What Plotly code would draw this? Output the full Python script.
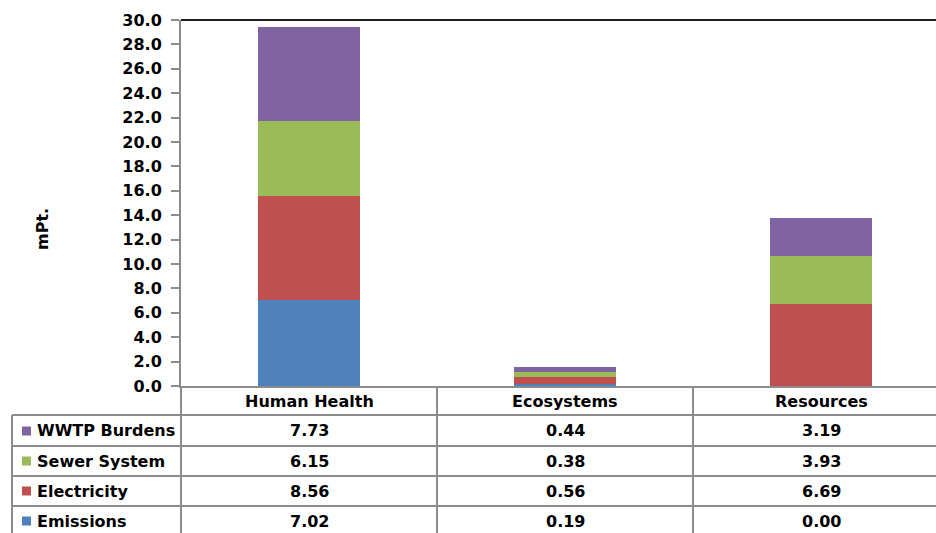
import plotly.graph_objects as go

categories = ["Human Health", "Ecosystems", "Resources"]
series_names = ["Emissions", "Electricity", "Sewer System", "WWTP Burdens"]
emissions = [7.02, 0.19, 0.00]
electricity = [8.56, 0.56, 6.69]
sewer = [6.15, 0.38, 3.93]
wwtp = [7.73, 0.44, 3.19]
colors = ["#4F81BD", "#C0504D", "#9BBB59", "#8064A2"]
y_title = "mPt."

W, H = 936, 533
series_vals = [emissions, electricity, sewer, wwtp]

FONT = dict(family="DejaVu Sans", size=16, color="#000000", weight="bold")
GRID = "#8c8c8c"

def py(p):
    return (H - p) / H

def px(p):
    return p / W

fig = go.Figure()
for name, vals, col in zip(series_names, series_vals, colors):
    fig.add_trace(go.Bar(x=categories, y=vals, name=name, marker=dict(color=col, line=dict(width=0)),
                         width=0.4, hoverinfo="skip"))

shapes = []
annotations = []

# top border line of plot area
shapes.append(dict(type="line", xref="paper", yref="paper", x0=px(181), x1=1, y0=py(20), y1=py(20),
                   line=dict(color="#202020", width=2)))
# table horizontal lines
row_lines = [415, 446, 476, 506]
for yl in row_lines:
    shapes.append(dict(type="line", xref="paper", yref="paper", x0=px(12), x1=1, y0=py(yl), y1=py(yl),
                       line=dict(color=GRID, width=2)))
# left table border
shapes.append(dict(type="line", xref="paper", yref="paper", x0=px(12), x1=px(12), y0=py(415), y1=0,
                   line=dict(color=GRID, width=2)))
# y axis extended down through table
shapes.append(dict(type="line", xref="paper", yref="paper", x0=px(181), x1=px(181), y0=py(386), y1=0,
                   line=dict(color=GRID, width=2)))
# category dividers
for xb in [0.5, 1.5]:
    shapes.append(dict(type="line", xref="x", yref="paper", x0=xb, x1=xb, y0=py(386), y1=0,
                       line=dict(color=GRID, width=2)))

# header
for c in categories:
    annotations.append(dict(x=c, xref="x", y=py(401), yref="paper", text=c, showarrow=False,
                            font=FONT, xanchor="center", yanchor="middle"))

row_centers = {"WWTP Burdens": 431, "Sewer System": 461, "Electricity": 491, "Emissions": 521}
for name, vals, col in zip(series_names, series_vals, colors):
    yc = row_centers[name]
    shapes.append(dict(type="rect", xref="paper", yref="paper", x0=px(22), x1=px(31), y0=py(yc + 4.5), y1=py(yc - 4.5),
                       fillcolor=col, line=dict(width=0)))
    annotations.append(dict(x=px(35), xref="paper", y=py(yc), yref="paper", text=name, showarrow=False,
                            font=FONT, xanchor="left", yanchor="middle"))
    for c, v in zip(categories, vals):
        annotations.append(dict(x=c, xref="x", y=py(yc), yref="paper", text=f"{v:.2f}", showarrow=False,
                                font=FONT, xanchor="center", yanchor="middle"))

annotations.append(dict(x=px(42), xref="paper", y=py(229), yref="paper", text=y_title, showarrow=False,
                        font=FONT, textangle=-90, xanchor="center", yanchor="middle"))

fig.update_layout(
    width=W, height=H,
    margin=dict(l=0, r=0, t=0, b=0, autoexpand=False),
    paper_bgcolor="white", plot_bgcolor="white",
    barmode="stack", showlegend=False,
    font=FONT,
    shapes=shapes, annotations=annotations,
    xaxis=dict(domain=[px(181), 1], range=[-0.5, 2.5 - 13 / 256], showticklabels=False, ticks="",
               showgrid=False, zeroline=False, showline=True, linecolor=GRID, linewidth=2, fixedrange=True,
               automargin=False),
    yaxis=dict(domain=[py(386), py(20)], range=[0, 30], dtick=2, tickformat=".1f", ticks="outside",
               ticklen=8, tickwidth=2, tickcolor=GRID, showgrid=False, zeroline=False, showline=True,
               linecolor=GRID, linewidth=2, tickfont=FONT, ticklabelstandoff=6, fixedrange=True,
               automargin=False),
)

fig.write_html("out.html", config={"displayModeBar": False},
               post_script="document.body.style.margin='0';document.body.style.overflow='hidden';")
